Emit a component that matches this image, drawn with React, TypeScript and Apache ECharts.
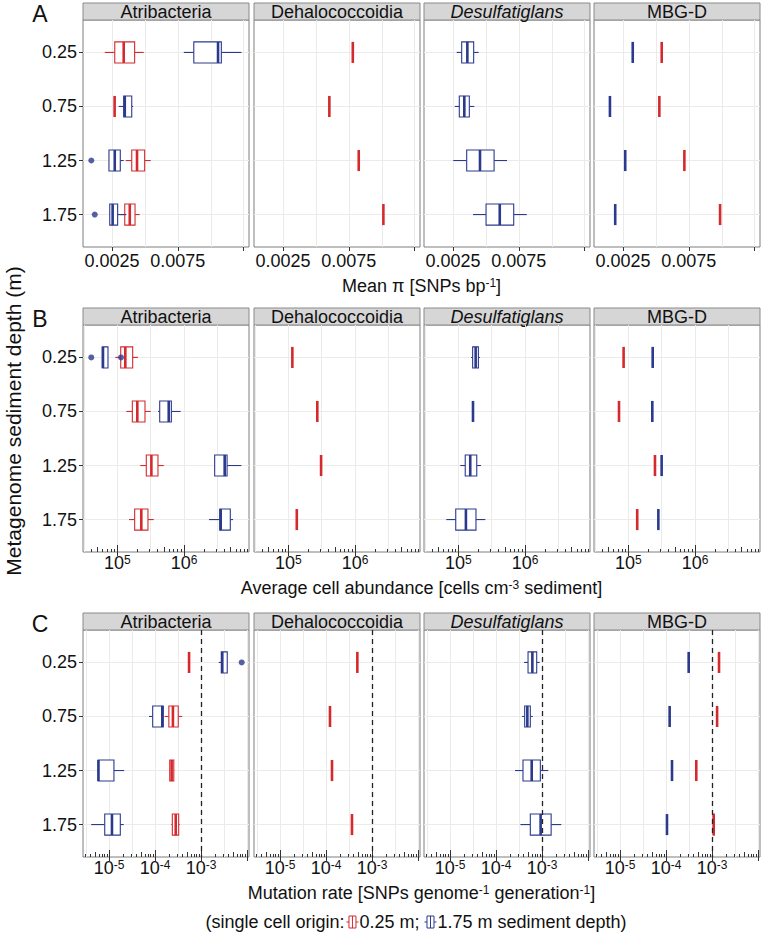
import React, { useEffect, useRef } from 'react';
import * as echarts from 'echarts';

// ---------------- categories ----------------
const depths = ['0.25', '0.75', '1.25', '1.75'];
const taxa = ['Atribacteria', 'Dehalococcoidia', 'Desulfatiglans', 'MBG-D'];
const italicTaxa = ['Desulfatiglans'];
const panelLetters = ['A', 'B', 'C'];

// Each entry per depth: [lowerWhisker, q1, median, q3, upperWhisker] or a single value
// ---------------- A: mean pi [SNPs per bp] ----------------
const piAtribacteriaRed = [
  [0.00195, 0.00271, 0.00339, 0.00422, 0.00491],
  0.0027,
  [0.00354, 0.004, 0.0044, 0.00498, 0.00544],
  [0.00313, 0.00347, 0.00385, 0.00425, 0.0046],
];
const piAtribacteriaBlue = [
  [0.00795, 0.00871, 0.01055, 0.0108, 0.01233],
  [0.00301, 0.00339, 0.00347, 0.004, 0.0041],
  [0.00227, 0.00227, 0.00271, 0.00313, 0.00339],
  [0.00233, 0.00233, 0.00255, 0.00293, 0.00359],
];
const piAtribacteriaBlueOutliers = [[2, 0.00093], [3, 0.00119]];
const piDehalococcoidiaRed = [0.0078, 0.00602, 0.00825, 0.01012];
const piDesulfatiglansBlue = [
  [0.00278, 0.00316, 0.00359, 0.00407, 0.00445],
  [0.00263, 0.00298, 0.00336, 0.00374, 0.00412],
  [0.00252, 0.00354, 0.00455, 0.00562, 0.0066],
  [0.00402, 0.00501, 0.00605, 0.00711, 0.0081],
];
const piMbgdRed = [0.00544, 0.00526, 0.00716, 0.00987];
const piMbgdBlue = [0.00324, 0.00151, 0.00267, 0.00191];

// ---------------- B: average cell abundance [cells per cm3] ----------------
const cellsAtribacteriaRed = [
  [93300, 112500, 131800, 170000, 204000],
  [136500, 168000, 199500, 260000, 316000],
  [221000, 272000, 324000, 407000, 497000],
  [150000, 182000, 229000, 288000, 352000],
];
const cellsAtribacteriaBlue = [
  [59600, 59600, 61000, 72500, 72500],
  [407000, 432000, 590000, 646000, 891000],
  [2880000, 2880000, 4070000, 4420000, 7240000],
  [2370000, 3430000, 3550000, 4940000, 5430000],
];
const cellsAtribacteriaBlueOutliers = [[0, 40700], [0, 113600]];
const cellsDehalococcoidiaRed = [115000, 272000, 310000, 134000];
const cellsDesulfatiglansBlue = [
  [155000, 164000, 182000, 200000, 211000],
  166000,
  [107000, 127000, 151000, 189000, 219000],
  [66000, 91500, 130000, 184000, 254000],
];
const cellsMbgdRed = [85000, 72500, 251000, 136000];
const cellsMbgdBlue = [232000, 229000, 316000, 282000];

// ---------------- C: mutation rate [SNPs per genome per generation] ----------------
const mutAtribacteriaRed = [
  5.5e-4,
  [1.62e-4, 2.0e-4, 2.45e-4, 3.2e-4, 3.9e-4],
  [2.05e-4, 2.09e-4, 2.3e-4, 2.56e-4, 2.62e-4],
  [2.26e-4, 2.38e-4, 2.82e-4, 3.27e-4, 3.44e-4],
];
const mutAtribacteriaBlue = [
  [2.43e-3, 2.76e-3, 2.9e-3, 3.72e-3, 3.72e-3],
  [7.4e-5, 8.9e-5, 1.44e-4, 1.51e-4, 1.51e-4],
  [5.8e-6, 5.8e-6, 5.9e-6, 1.28e-5, 2.13e-5],
  [4.1e-6, 8.07e-6, 1.16e-5, 1.76e-5, 2.09e-5],
];
const mutAtribacteriaBlueOutliers = [[0, 7.67e-3]];
const mutDehalococcoidiaRed = [4.8e-4, 1.22e-4, 1.35e-4, 3.67e-4];
const mutDesulfatiglansBlue = [
  [4.07e-4, 4.97e-4, 6.17e-4, 7.67e-4, 8.9e-4],
  [3.7e-4, 4.2e-4, 4.8e-4, 5.57e-4, 6.3e-4],
  [2.59e-4, 3.86e-4, 5.97e-4, 9.2e-4, 1.37e-3],
  [3.39e-4, 5.57e-4, 9.33e-4, 1.58e-3, 2.63e-3],
];
const mutMbgdRed = [1.42e-3, 1.29e-3, 4.55e-4, [1.05e-3, 1.07e-3, 1.09e-3, 1.12e-3, 1.14e-3]];
const mutMbgdBlue = [3.11e-4, 1.2e-4, 1.35e-4, 1.05e-4];
const mutationThreshold = 1e-3;

// ---------------- axis ticks / ranges ----------------
const piRange = [0.0003, 0.0129];
const piTickValues = [0.0025, 0.0075, 0.0125];
const piLabelValues = [0.0025, 0.0075];
const piGridValues = [0.0025, 0.005, 0.0075, 0.01, 0.0125];
const cellsRange = [3.06e4, 9.42e6];
const cellsDecadeTicks = [1e5, 1e6];
const cellsDecadeLabels = [1e5, 1e6];
const mutRange = [2.72e-6, 1.105e-2];
const mutDecadeTicks = [1e-5, 1e-4, 1e-3, 1e-2];
const mutDecadeLabels = [1e-5, 1e-4, 1e-3];

// ---------------- layout / style ----------------
const colLeft = [83, 254, 424, 594];
const rowTop = [20, 325, 630];
const panelW = 166;
const panelH = 227;
const stripH = 17;
const RED = '#D42A2E';
const BLUE = '#2C3A8E';
const TXT = '#111111';
const FONT = '"Liberation Sans", Arial, Helvetica, sans-serif';
const FS = 18;

const ident = (v: number) => v;
const log10 = (v: number) => Math.log10(v);

function logMinor(lmin: number, lmax: number, ks: number[]) {
  const out: number[] = [];
  for (let n = Math.floor(lmin) - 1; n <= Math.ceil(lmax); n++) {
    for (const k of ks) {
      const v = n + Math.log10(k);
      if (v >= lmin && v <= lmax) out.push(v);
    }
  }
  return out;
}
function halfDecades(lmin: number, lmax: number) {
  const out: number[] = [];
  for (let v = Math.ceil(lmin * 2) / 2; v <= lmax + 1e-9; v += 0.5) out.push(v);
  return out;
}

const supRich = {
  b: { fontSize: FS, fontFamily: FONT, color: TXT },
  s: { fontSize: 12, fontFamily: FONT, color: TXT, verticalAlign: 'top' },
};

const rows: any[] = [
  {
    log: false,
    range: piRange,
    ticks: piTickValues,
    labels: piLabelValues,
    gridVals: piGridValues,
    fmt: (v: number) => v.toFixed(4),
    labelMargin: 5,
    title: 'Mean π [SNPs bp{s|-1}]',
    titleY: 286,
    panels: [
      { red: piAtribacteriaRed, blue: piAtribacteriaBlue, outliers: piAtribacteriaBlueOutliers },
      { red: piDehalococcoidiaRed },
      { blue: piDesulfatiglansBlue },
      { red: piMbgdRed, blue: piMbgdBlue },
    ],
  },
  {
    log: true,
    range: cellsRange,
    ticks: cellsDecadeTicks,
    labels: cellsDecadeLabels,
    labelMargin: 2,
    title: 'Average cell abundance [cells cm{s|-3} sediment]',
    titleY: 588,
    panels: [
      { red: cellsAtribacteriaRed, blue: cellsAtribacteriaBlue, outliers: cellsAtribacteriaBlueOutliers },
      { red: cellsDehalococcoidiaRed },
      { blue: cellsDesulfatiglansBlue },
      { red: cellsMbgdRed, blue: cellsMbgdBlue },
    ],
  },
  {
    log: true,
    range: mutRange,
    ticks: mutDecadeTicks,
    labels: mutDecadeLabels,
    labelMargin: 2,
    title: 'Mutation rate [SNPs genome{s|-1} generation{s|-1}]',
    titleY: 893,
    refLine: mutationThreshold,
    panels: [
      { red: mutAtribacteriaRed, blue: mutAtribacteriaBlue, outliers: mutAtribacteriaBlueOutliers },
      { red: mutDehalococcoidiaRed },
      { blue: mutDesulfatiglansBlue },
      { red: mutMbgdRed, blue: mutMbgdBlue },
    ],
  },
];

function summaries(arr: any[] | undefined, t: (v: number) => number) {
  if (!arr) return [];
  return arr
    .map((v, i) => (v == null ? null : [i, ...(Array.isArray(v) ? v : [v, v, v, v, v]).map(t)]))
    .filter(Boolean);
}

function makeRender(color: string) {
  return (params: any, api: any) => {
    const cat = api.value(0);
    const xs = [1, 2, 3, 4, 5].map((i) => api.coord([api.value(i), cat])[0]);
    const yc = api.coord([api.value(3), cat])[1];
    const band = api.size([0, 1])[1];
    const half = band * 0.195;
    const [xLo, xQ1, xMed, xQ3, xHi] = xs;
    const children: any[] = [];
    if (xQ1 - xLo > 0.3)
      children.push({ type: 'line', shape: { x1: xLo, y1: yc, x2: xQ1, y2: yc }, style: { stroke: color, lineWidth: 1.1 } });
    if (xHi - xQ3 > 0.3)
      children.push({ type: 'line', shape: { x1: xQ3, y1: yc, x2: xHi, y2: yc }, style: { stroke: color, lineWidth: 1.1 } });
    if (xQ3 - xQ1 > 0.3)
      children.push({
        type: 'rect',
        shape: { x: xQ1, y: yc - half, width: xQ3 - xQ1, height: 2 * half },
        style: { fill: '#ffffff', stroke: color, lineWidth: 1.1 },
      });
    children.push({
      type: 'line',
      shape: { x1: xMed, y1: yc - half, x2: xMed, y2: yc + half },
      style: { stroke: color, lineWidth: 2.6 },
    });
    return { type: 'group', children };
  };
}

function buildOption() {
  const grid: any[] = [];
  const xAxis: any[] = [];
  const yAxis: any[] = [];
  const series: any[] = [];
  const elements: any[] = [];

  rows.forEach((row, r) => {
    const t = row.log ? log10 : ident;
    const lmin = t(row.range[0]);
    const lmax = t(row.range[1]);
    const gridVals = row.log ? halfDecades(lmin, lmax) : row.gridVals;
    const tickVals = row.ticks.map(t);
    const labelVals = row.labels.map(t);
    const fmt = row.log ? (v: number) => `{b|10}{s|${Math.round(v)}}` : row.fmt;

    row.panels.forEach((p: any, c: number) => {
      const g = grid.length;
      grid.push({
        left: colLeft[c],
        top: rowTop[r],
        width: panelW,
        height: panelH,
        show: true,
        borderColor: '#7f7f7f',
        borderWidth: 1,
        backgroundColor: '#ffffff',
        containLabel: false,
        outerBoundsMode: 'none',
      });
      const base = {
        type: 'value',
        gridIndex: g,
        min: lmin,
        max: lmax,
        position: 'bottom',
        axisLine: { show: false },
        splitLine: { show: false },
        axisLabel: { show: false },
        axisTick: { show: false },
      };
      const gx = xAxis.length;
      xAxis.push({
        ...base,
        axisTick: { show: false, customValues: gridVals },
        splitLine: { show: true, customValues: gridVals, lineStyle: { color: '#EBEBEB', width: 1 } },
      });
      xAxis.push({
        ...base,
        axisTick: { show: true, customValues: tickVals, length: 4, lineStyle: { color: '#333333', width: 1 } },
        axisLabel: {
          show: true,
          customValues: labelVals,
          formatter: fmt,
          rich: supRich,
          fontSize: FS,
          fontFamily: FONT,
          color: TXT,
          margin: row.labelMargin,
        },
      });
      if (row.log) {
        const tickSets = [
          { vals: tickVals, len: 7 },
          { vals: logMinor(lmin, lmax, [5]), len: 5 },
          { vals: logMinor(lmin, lmax, [2, 3, 4, 6, 7, 8, 9]), len: 3 },
        ];
        tickSets.forEach((ts) => {
          xAxis.push({
            ...base,
            axisTick: { show: true, inside: true, customValues: ts.vals, length: ts.len, lineStyle: { color: '#333333', width: 1 } },
          });
        });
      }
      const gy = yAxis.length;
      yAxis.push({
        type: 'value',
        gridIndex: g,
        min: -0.6,
        max: 3.6,
        inverse: true,
        axisLine: { show: false },
        axisTick: { show: c === 0, customValues: [0, 1, 2, 3], length: 4, lineStyle: { color: '#333333' } },
        axisLabel: {
          show: c === 0,
          customValues: [0, 1, 2, 3],
          formatter: (v: number) => depths[Math.round(v)],
          fontSize: FS,
          fontFamily: FONT,
          color: TXT,
          margin: 6,
        },
        splitLine: { show: true, customValues: [0, 1, 2, 3], lineStyle: { color: '#EBEBEB', width: 1 } },
      });

      const addBox = (arr: any, color: string, z: number) => {
        const data = summaries(arr, t);
        if (!data.length) return;
        series.push({
          type: 'custom',
          xAxisIndex: gx,
          yAxisIndex: gy,
          renderItem: makeRender(color),
          data,
          encode: { x: [1, 2, 3, 4, 5], y: 0 },
          z,
          silent: true,
        });
      };
      addBox(p.red, RED, 2);
      addBox(p.blue, BLUE, 3);
      if (p.outliers) {
        series.push({
          type: 'scatter',
          xAxisIndex: gx,
          yAxisIndex: gy,
          data: p.outliers.map((o: number[]) => [t(o[1]), o[0]]),
          symbol: 'circle',
          symbolSize: 6,
          itemStyle: { color: BLUE },
          z: 4,
          silent: true,
        });
      }
      if (row.refLine) {
        series.push({
          type: 'scatter',
          xAxisIndex: gx,
          yAxisIndex: gy,
          data: [],
          silent: true,
          markLine: {
            silent: true,
            symbol: ['none', 'none'],
            label: { show: false },
            lineStyle: { type: [5, 4], color: '#222222', width: 1.3 },
            data: [{ xAxis: t(row.refLine) }],
            animation: false,
          },
        });
      }

      // strip
      elements.push({
        type: 'rect',
        shape: { x: colLeft[c], y: rowTop[r] - stripH, width: panelW, height: stripH },
        style: { fill: '#D6D6D6', stroke: '#8a8a8a', lineWidth: 1 },
        silent: true,
      });
      elements.push({
        type: 'text',
        x: colLeft[c] + panelW / 2,
        y: rowTop[r] - stripH / 2 + 0.5,
        style: {
          text: taxa[c],
          fontSize: FS,
          fontFamily: FONT,
          fontStyle: italicTaxa.includes(taxa[c]) ? 'italic' : 'normal',
          fill: TXT,
          align: 'center',
          verticalAlign: 'middle',
        },
        silent: true,
      });
    });

    // panel letter
    elements.push({
      type: 'text',
      x: 40,
      y: rowTop[r] - 6,
      style: { text: panelLetters[r], fontSize: 23, fontFamily: FONT, fill: TXT, align: 'center', verticalAlign: 'middle' },
      silent: true,
    });
    // x axis title
    elements.push({
      type: 'text',
      x: (colLeft[0] + colLeft[3] + panelW) / 2,
      y: row.titleY,
      style: {
        text: row.title,
        fontSize: FS,
        fontFamily: FONT,
        fill: TXT,
        align: 'center',
        verticalAlign: 'middle',
        rich: {
          s: { fontSize: 12, fontFamily: FONT, fill: TXT, verticalAlign: 'top' },
        },
      },
      silent: true,
    });
  });

  // y axis title
  elements.push({
    type: 'text',
    x: 13,
    y: 421,
    rotation: Math.PI / 2,
    style: {
      text: 'Metagenome sediment depth (m)',
      fontSize: 21,
      fontFamily: FONT,
      fill: TXT,
      align: 'center',
      verticalAlign: 'middle',
    },
    silent: true,
  });

  // bottom legend line
  const t1 = '(single cell origin:';
  const t2 = '0.25 m; ';
  const t3 = '1.75 m sediment depth)';
  let w1 = 139, w2 = 65, w3 = 189;
  try {
    const ctx = document.createElement('canvas').getContext('2d');
    if (ctx) {
      ctx.font = `${FS}px ${FONT}`;
      w1 = ctx.measureText(t1).width;
      w2 = ctx.measureText(t2).width;
      w3 = ctx.measureText(t3).width;
    }
  } catch (e) {}
  const iconW = 12;
  const total = w1 + 2 + iconW + 1 + w2 + iconW + 1 + w3;
  const ly = 922;
  let lx = 416 - total / 2;
  const legendText = (txt: string, x: number) => ({
    type: 'text',
    x,
    y: ly,
    style: { text: txt, fontSize: FS, fontFamily: FONT, fill: TXT, align: 'left', verticalAlign: 'middle' },
    silent: true,
  });
  const icon = (x: number, color: string) => ({
    type: 'group',
    silent: true,
    children: [
      { type: 'line', shape: { x1: x, y1: ly, x2: x + iconW, y2: ly }, style: { stroke: color, lineWidth: 1 } },
      { type: 'rect', shape: { x: x + 2.5, y: ly - 6, width: 7, height: 12 }, style: { fill: '#ffffff', stroke: color, lineWidth: 1 } },
      { type: 'line', shape: { x1: x + 6, y1: ly - 6, x2: x + 6, y2: ly + 6 }, style: { stroke: color, lineWidth: 1 } },
    ],
  });
  elements.push(legendText(t1, lx));
  lx += w1 + 2;
  elements.push(icon(lx, RED));
  lx += iconW + 1;
  elements.push(legendText(t2, lx));
  lx += w2;
  elements.push(icon(lx, BLUE));
  lx += iconW + 1;
  elements.push(legendText(t3, lx));

  return {
    animation: false,
    backgroundColor: '#ffffff',
    textStyle: { fontFamily: FONT },
    grid,
    xAxis,
    yAxis,
    series,
    graphic: { elements },
  };
}

export default function App() {
  const ref = useRef<HTMLDivElement>(null);
  useEffect(() => {
    document.body.style.margin = '0';
    const chart = echarts.init(ref.current as HTMLDivElement, null, { renderer: 'svg', width: 762, height: 935 });
    chart.setOption(buildOption() as any);
    return () => chart.dispose();
  }, []);
  return <div ref={ref} style={{ width: 762, height: 935 }} />;
}
